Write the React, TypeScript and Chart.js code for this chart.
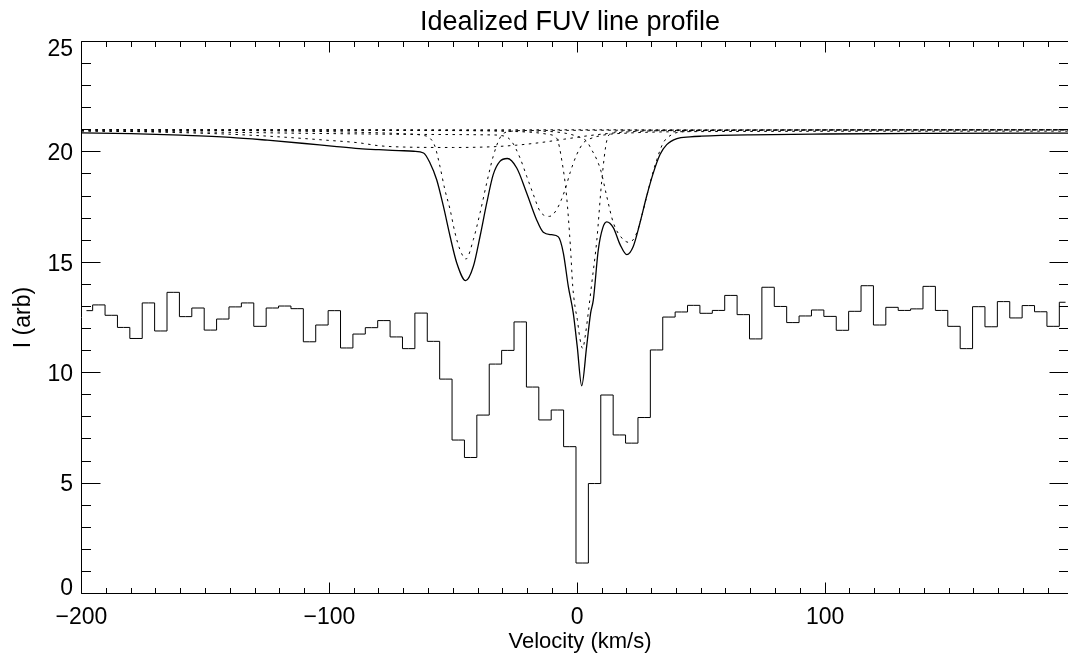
import { useEffect, useRef } from "react";
import { Chart, registerables } from "chart.js";

Chart.register(...registerables);

// ---------- text ----------
const chartTitle = "Idealized FUV line profile";
const xAxisTitle = "Velocity (km/s)";
const yAxisTitle = "I (arb)";

// ---------- axes ----------
const xMin = -200;
const xMax = 198;
const yMin = 0;
const yMax = 25;
const xMajorTicks = [-200, -100, 0, 100];
const xTickLabels = ["\u2212200", "\u2212100", "0", "100"];
const yMajorTicks = [0, 5, 10, 15, 20, 25];
const yTickLabels = ["0", "5", "10", "15", "20", "25"];
const xMinorStep = 10;
const yMinorStep = 1;

// ---------- observed spectrum (histogram) ----------
const histVelocity = [
  -198, -193, -188, -183, -178, -173, -168, -163, -158, -153,
  -148, -143, -138, -133, -128, -123, -118, -113, -108, -103,
  -98, -93, -88, -83, -78, -73, -68, -63, -58, -53,
  -48, -43, -38, -33, -28, -23, -18, -13, -8, -3,
  2, 7, 12, 17, 22, 27, 32, 37, 42, 47,
  52, 57, 62, 67, 72, 77, 82, 87, 92, 97,
  102, 107, 112, 117, 122, 127, 132, 137, 142, 147,
  152, 157, 162, 167, 172, 177, 182, 187, 192, 197,
];
const histIntensity = [
  12.81, 13.07, 12.6, 12.05, 11.55, 13.16, 11.89, 13.64, 12.54, 12.93,
  11.93, 12.43, 12.98, 13.16, 12.1, 12.93, 13.02, 12.9, 11.4, 12.16,
  12.81, 11.12, 11.75, 12.04, 12.36, 11.62, 11.09, 12.7, 11.42, 9.71,
  6.95, 6.16, 8.08, 10.39, 11.01, 12.3, 9.35, 7.86, 8.31, 6.65,
  1.38, 4.98, 8.99, 7.18, 6.81, 7.97, 11.03, 12.52, 12.75, 13.05,
  12.69, 12.82, 13.5, 12.63, 11.53, 13.87, 13.0, 12.27, 12.57, 12.84,
  12.55, 11.92, 12.78, 13.94, 12.16, 12.96, 12.82, 12.89, 13.91, 12.82,
  12.1, 11.09, 12.99, 12.08, 13.22, 12.48, 13.04, 12.76, 12.1, 13.19,
];

// ---------- model profile (solid) ----------
const modelVelocity = [
  -200, -180, -160, -140, -125, -110, -98, -88, -80, -72,
  -66, -62, -59.4, -56.7, -54, -51.3, -48.6, -45, -41.9, -39.2,
  -36.5, -33.9, -31.2, -28.2, -24.4, -20.4, -16.4, -13.7, -10.3, -7.6,
  -5.6, -3.6, -1.6, 0, 1.8, 3.8, 5.4, 6.5, 8.5, 10.3,
  11.9, 14.6, 17.3, 20, 22.6, 25.3, 28, 30.7, 33.4, 36.1,
  40.2, 45.5, 50, 70, 100, 140, 198,
];
const modelIntensity = [
  20.86, 20.83, 20.76, 20.66, 20.53, 20.38, 20.25, 20.15, 20.1, 20.06,
  20.03, 19.95, 19.5, 18.74, 17.54, 16.18, 14.97, 14.17, 14.82, 16.18,
  17.69, 18.97, 19.57, 19.7, 19.27, 18.14, 16.93, 16.36, 16.25, 16.15,
  15.42, 13.91, 12.7, 11.19, 9.41, 11.19, 12.7, 13.3, 15.57, 16.56,
  16.83, 16.56, 15.8, 15.35, 15.72, 16.78, 17.99, 19.05, 19.88, 20.33,
  20.6, 20.68, 20.71, 20.77, 20.81, 20.84, 20.85,
];

// ---------- components (dotted) ----------
const continuumVelocity = [-200, 198];
const continuumIntensity = [21.0, 21.0];

const broadVelocity = [-200, -170, -140, -120, -100, -88, -80, -70, -50, -35, -25, -15, -5, 5, 15, 25, 40, 198];
const broadIntensity = [20.95, 20.9, 20.8, 20.68, 20.52, 20.41, 20.28, 20.22, 20.2, 20.23, 20.3, 20.42, 20.58, 20.74, 20.86, 20.93, 20.97, 21.0];

const compAVelocity = [
  -200, -120, -85, -70, -63, -59.4, -57.4, -55.4, -53.4, -51.3,
  -49.3, -47.3, -44.9, -41.9, -39.2, -36.5, -33.9, -31.2, -28.5, -20, 198,
];
const compAIntensity = [
  20.99, 20.95, 20.88, 20.82, 20.76, 20.62, 20.25, 19.35, 18.29, 17.39,
  16.33, 15.57, 15.15, 16.03, 17.24, 18.6, 19.8, 20.63, 20.9, 20.97, 21.0,
];

const compBVelocity = [
  -200, -150, -100, -60, -35, -29, -26.3, -23.1, -20.4, -17.7,
  -15, -11.2, -8.3, -4.9, -2.9, -0.2, 2.5, 4.5, 10, 20, 50, 198,
];
const compBIntensity = [
  20.95, 20.9, 20.83, 20.79, 20.77, 20.7, 20.45, 19.73, 18.9, 18.07,
  17.31, 17.08, 17.39, 18.29, 19.05, 19.88, 20.41, 20.56, 20.75, 20.85, 20.92, 20.94,
];

const compCVelocity = [
  -200, -60, -20, -12, -8.2, -6.2, -4.3, -2.8, -1.8, -0.9,
  0.05, 1.0, 2.2, 3.3, 4.6, 5.8, 7.9, 9.9, 11.9, 14, 20, 198,
];
const compCIntensity = [
  21.0, 20.97, 20.9, 20.8, 20.6, 19.6, 18.0, 15.8, 13.9, 13.0,
  12.4, 11.6, 11.1, 11.72, 12.85, 13.99, 16.0, 18.7, 20.5, 20.85, 20.95, 21.0,
];

const compDVelocity = [
  -200, -20, -5, 0, 3.8, 5.8, 7.9, 9.6, 11.9, 14.6,
  18, 21, 24, 26.7, 29.4, 32.1, 34.7, 38.1, 41.5, 60, 198,
];
const compDIntensity = [
  21.0, 20.95, 20.85, 20.7, 20.48, 20.1, 19.65, 19.12, 17.99, 16.78,
  16.1, 15.9, 16.33, 17.39, 18.6, 19.65, 20.41, 20.78, 20.9, 20.97, 21.0,
];

const pts = (xs: number[], ys: number[]) => xs.map((x, i) => ({ x, y: ys[i] }));

const FONT = "'Liberation Sans', Arial, Helvetica, sans-serif";

const idlFrame = {
  id: "idlFrame",
  afterDraw(chart: any) {
    const { ctx, chartArea: a, scales } = chart;
    const xs = scales.x;
    const ys = scales.y;
    const L = a.left;
    const R = a.right + 0.5;
    const T = a.top;
    const B = a.bottom;
    ctx.save();
    ctx.strokeStyle = "#000";
    ctx.lineWidth = 1;
    ctx.beginPath();
    ctx.moveTo(L, T);
    ctx.lineTo(R, T);
    ctx.lineTo(R, B);
    ctx.lineTo(L, B);
    ctx.closePath();
    ctx.stroke();

    const snap = (p: number) => Math.round(p - 0.5) + 0.5;
    ctx.beginPath();
    // x ticks (bottom & top, inward)
    for (let v = xMin; v <= xMax + 1e-6; v += xMinorStep) {
      const major = xMajorTicks.includes(v);
      const len = major ? 11 : 5.5;
      const px = snap(xs.getPixelForValue(v));
      ctx.moveTo(px, B);
      ctx.lineTo(px, B - len);
      ctx.moveTo(px, T);
      ctx.lineTo(px, T + len);
    }
    // y ticks (left & right, inward)
    for (let v = yMin; v <= yMax + 1e-6; v += yMinorStep) {
      const major = yMajorTicks.includes(v);
      const len = major ? 19 : 9.5;
      const py = snap(ys.getPixelForValue(v));
      ctx.moveTo(L, py);
      ctx.lineTo(L + len, py);
      ctx.moveTo(R, py);
      ctx.lineTo(R - len, py);
    }
    ctx.stroke();

    ctx.fillStyle = "#000";
    ctx.font = `23px ${FONT}`;
    ctx.textAlign = "center";
    ctx.textBaseline = "alphabetic";
    xMajorTicks.forEach((v, i) => {
      ctx.fillText(xTickLabels[i], xs.getPixelForValue(v), B + 30.5);
    });
    ctx.textAlign = "right";
    yMajorTicks.forEach((v, i) => {
      const py = ys.getPixelForValue(v);
      let off = 8.2;
      if (i === 0) off = 1;
      if (i === yMajorTicks.length - 1) off = 14.3;
      ctx.fillText(yTickLabels[i], L - 8.5, py + off);
    });

    // axis titles
    ctx.textAlign = "center";
    ctx.font = `22px ${FONT}`;
    ctx.fillText(xAxisTitle, 580, 648);
    ctx.save();
    ctx.translate(30, (T + B) / 2);
    ctx.rotate(-Math.PI / 2);
    ctx.font = `23px ${FONT}`;
    ctx.fillText(yAxisTitle, 0, 0);
    ctx.restore();

    // main title
    ctx.font = `27px ${FONT}`;
    ctx.fillText(chartTitle, 570, 30);
    ctx.restore();
  },
};

export default function App() {
  const ref = useRef<HTMLCanvasElement | null>(null);
  useEffect(() => {
    if (!ref.current) return;
    const dotted = { borderColor: "#000", borderWidth: 1, borderDash: [2.5, 4.5], cubicInterpolationMode: "monotone" as const, pointRadius: 0, fill: false };
    const chart = new Chart(ref.current, {
      type: "line",
      data: {
        datasets: [
          { label: "observed", data: pts(histVelocity, histIntensity), borderColor: "#000", borderWidth: 1, stepped: "middle", pointRadius: 0, fill: false },
          { label: "model", data: pts(modelVelocity, modelIntensity), borderColor: "#000", borderWidth: 1.3, cubicInterpolationMode: "monotone", pointRadius: 0, fill: false },
          { label: "continuum", data: pts(continuumVelocity, continuumIntensity), ...dotted },
          { label: "broad", data: pts(broadVelocity, broadIntensity), ...dotted },
          { label: "comp A", data: pts(compAVelocity, compAIntensity), ...dotted },
          { label: "comp B", data: pts(compBVelocity, compBIntensity), ...dotted },
          { label: "comp C", data: pts(compCVelocity, compCIntensity), ...dotted },
          { label: "comp D", data: pts(compDVelocity, compDIntensity), ...dotted },
        ] as any,
      },
      options: {
        animation: false,
        responsive: false,
        devicePixelRatio: 1,
        layout: { padding: { left: 81.5, right: 0, top: 41.5, bottom: 64.5 } },
        scales: {
          x: { type: "linear", min: xMin, max: xMax, display: false },
          y: { type: "linear", min: yMin, max: yMax, display: false },
        },
        plugins: { legend: { display: false }, tooltip: { enabled: false }, title: { display: false } },
        elements: { point: { radius: 0 } },
      },
      plugins: [idlFrame],
    });
    return () => chart.destroy();
  }, []);
  return (
    <div style={{ position: "absolute", left: 0, top: 0, width: 1068, height: 658, background: "#fff" }}>
      <canvas ref={ref} width={1068} height={658} style={{ display: "block" }} />
    </div>
  );
}
